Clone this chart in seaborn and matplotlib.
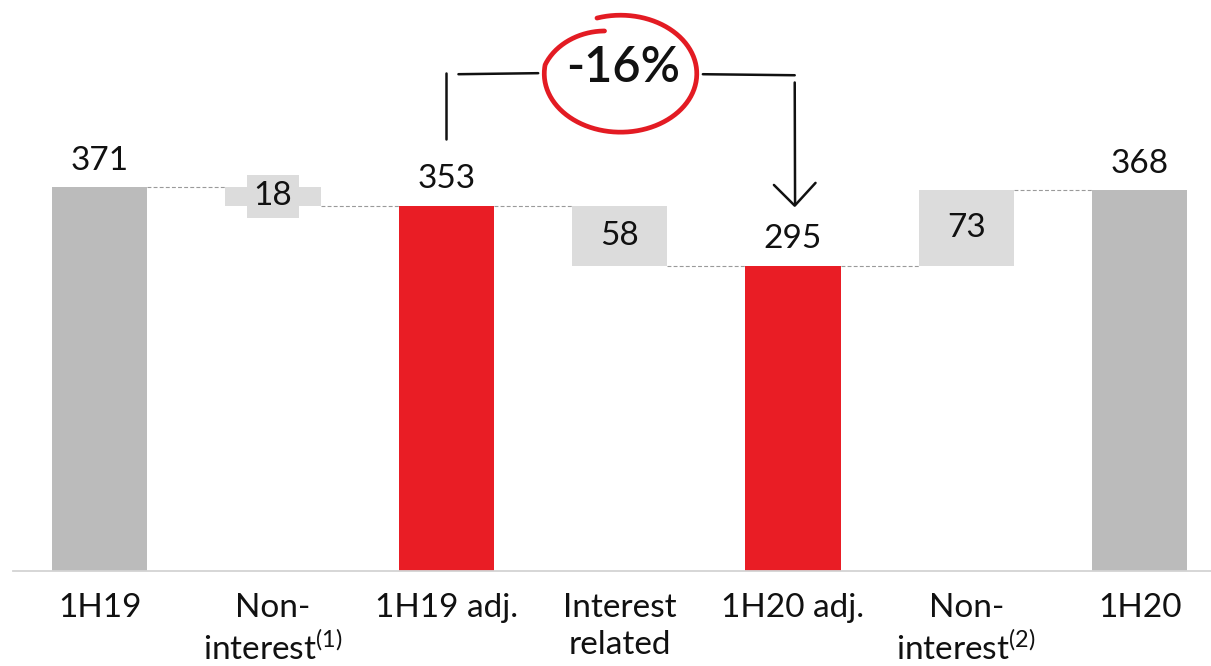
import numpy as np
import pandas as pd
import matplotlib
matplotlib.use("Agg")
import matplotlib.pyplot as plt
import seaborn as sns

# ---- data -------------------------------------------------------------
categories = ["1H19", "Non-interest (1)", "1H19 adj.", "Interest related",
              "1H20 adj.", "Non-interest (2)", "1H20"]
tick_labels = ["1H19", "Non-\ninterest$^{(1)}$", "1H19 adj.", "Interest\nrelated",
               "1H20 adj.", "Non-\ninterest$^{(2)}$", "1H20"]
values = [371, -18, 353, -58, 295, 73, 368]
kinds = ["total", "delta", "total", "delta", "total", "delta", "total"]
bar_colors = ["#BBBBBB", "#DCDCDC", "#E91D25", "#DCDCDC", "#E91D25", "#DCDCDC", "#BBBBBB"]
change_label = "-16%"

# ---- waterfall geometry -----------------------------------------------
bottoms, heights, levels = [], [], []
running = 0
for v, k in zip(values, kinds):
    if k == "total":
        bottoms.append(0)
        heights.append(v)
        running = v
    else:
        new = running + v
        bottoms.append(min(running, new))
        heights.append(abs(v))
        running = new
    levels.append(running)

df = pd.DataFrame({"category": categories, "height": heights, "bottom": bottoms})

# ---- style -------------------------------------------------------------
sns.set_style("white")
plt.rcParams["font.family"] = ["Lato", "DejaVu Sans"]
plt.rcParams["mathtext.fontset"] = "custom"
plt.rcParams["mathtext.rm"] = "Lato"
plt.rcParams["mathtext.it"] = "Lato:italic"
plt.rcParams["mathtext.bf"] = "Lato:bold"

W, H = 1211, 666
fig = plt.figure(figsize=(W / 100, H / 100), dpi=100)
ax = fig.add_axes([13 / W, 95 / H, 7 * 173.33 / W, 571 / H])

BAR_W = 0.55
sns.barplot(data=df, x="category", y="height", bottom=df["bottom"].values,
            color="#BBBBBB", width=BAR_W, saturation=1, ax=ax, zorder=2)
for patch, c in zip(ax.patches, bar_colors):
    patch.set_facecolor(c)
    patch.set_edgecolor("none")

ax.set_xlim(-0.5, 6.5)
ax.set_ylim(0, 551.7)

# connectors between neighbouring bars
for i in range(len(values) - 1):
    ax.plot([i + BAR_W / 2, i + 1 - BAR_W / 2], [levels[i], levels[i]],
            color="#9A9A9A", lw=0.8, linestyle=(0, (3.5, 2)), zorder=1)

FS = 24
for i, (v, k) in enumerate(zip(values, kinds)):
    if k == "total":
        ax.annotate(f"{v}", (i, v), xytext=(0, 19), textcoords="offset points",
                    ha="center", va="center", fontsize=FS, color="#111111")
    else:
        mid = bottoms[i] + heights[i] / 2
        ax.text(i, mid, f"{abs(v)}", ha="center", va="center", fontsize=FS,
                color="#111111", zorder=3,
                bbox=dict(boxstyle="square,pad=0.2", fc=bar_colors[i], ec="none"))

# axis cosmetics
for s in ["left", "right", "top"]:
    ax.spines[s].set_visible(False)
ax.spines["bottom"].set_color("#D3D3D3")
ax.spines["bottom"].set_linewidth(1.3)
ax.set_yticks([])
ax.set_xlabel("")
ax.set_ylabel("")
ax.set_xticks(range(len(categories)))
ax.set_xticklabels(tick_labels, fontsize=FS, linespacing=1.3, color="#111111")
ax.tick_params(axis="x", length=0, pad=16)

# ---- bracket with circled change ---------------------------------------
ink = "#111111"
left_x, right_x = 2.0, 4.01
top_y = 480
ax.plot([left_x, left_x], [417, 481], color=ink, lw=1.8, solid_capstyle="round")
ax.plot([2.07, 2.53], [top_y, top_y + 1], color=ink, lw=1.8, solid_capstyle="round")
ax.plot([3.48, right_x], [top_y, top_y - 1], color=ink, lw=1.8, solid_capstyle="round")
ax.plot([right_x, right_x + 0.002], [472, 355], color=ink, lw=1.8, solid_capstyle="round")
tip = (right_x, 353)
ax.plot([right_x - 0.12, tip[0], right_x + 0.12], [373, tip[1], 375],
        color=ink, lw=1.8, solid_capstyle="round", solid_joinstyle="round")

# hand-drawn loop around the percentage
cx, cy, a, b = 3.005, 480.5, 0.44, 56.5
t = np.radians(np.linspace(108, 108 - 362, 300))
frac = np.linspace(0, 1, t.size)
r = np.where(frac < 0.82, 1.0, 1.0 - (frac - 0.82) / 0.18 * 0.24)
ax.plot(cx + a * r * np.cos(t), cy + b * r * np.sin(t), color="#E31B23",
        lw=3.4, solid_capstyle="round", zorder=4)
ax.text(3.02, 486, change_label, ha="center", va="center", fontsize=35,
        fontweight="semibold", color=ink, zorder=5)

fig.savefig("out.png", dpi=100)
